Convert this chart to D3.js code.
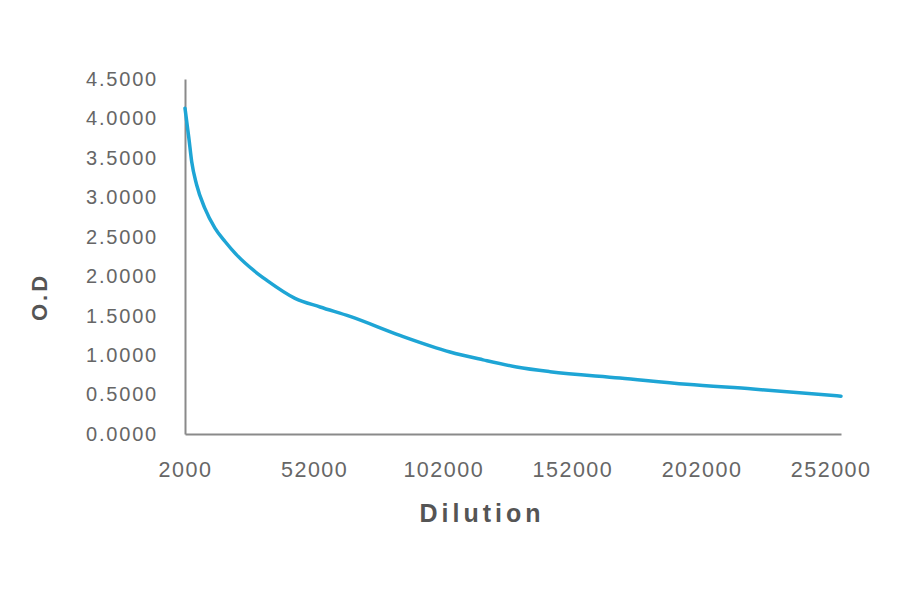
<!DOCTYPE html>
<html>
<head>
<meta charset="utf-8">
<script src="https://cdn.jsdelivr.net/npm/d3@7"></script>
<style>
  body { margin: 0; background: #fff; }
  svg text { font-family: "Liberation Sans", Arial, sans-serif; }
</style>
</head>
<body>
<div id="chart"></div>
<script>
// readings
const dilution = [2000, 3500, 4600, 6500, 9700, 13600, 17500, 22000, 29100, 33600, 44600,
  54300, 65900, 85200, 104600, 117400, 130400, 143300, 170400, 196300, 221900, 256000];
const od = [4.13, 3.75, 3.45, 3.16, 2.86, 2.61, 2.44, 2.27, 2.06, 1.95, 1.72,
  1.61, 1.49, 1.25, 1.04, 0.94, 0.85, 0.79, 0.71, 0.63, 0.57, 0.48];
const xTicks = [2000, 52000, 102000, 152000, 202000, 252000];
const yTicks = [0, 0.5, 1, 1.5, 2, 2.5, 3, 3.5, 4, 4.5];

const width = 900, height = 594;
const margin = { top: 79, right: 59, bottom: 160, left: 185 };

const svg = d3.select("#chart").append("svg")
  .attr("width", width)
  .attr("height", height);

const x = d3.scaleLinear()
  .domain([2000, 256000])
  .range([margin.left, width - margin.right]);

const y = d3.scaleLinear()
  .domain([0, 4.5])
  .range([height - margin.bottom, margin.top]);

// x axis
const xAxis = svg.append("g")
  .attr("transform", "translate(0," + y(0) + ")")
  .call(d3.axisBottom(x).tickValues(xTicks).tickSize(0).tickPadding(28).tickFormat(d3.format("d")));
xAxis.select(".domain").attr("stroke", "#8a8a8a").attr("stroke-width", 2);
xAxis.selectAll("text")
  .attr("fill", "#666")
  .attr("font-size", 21.5)
  .attr("letter-spacing", 1.5);

// y axis
const yAxis = svg.append("g")
  .attr("transform", "translate(" + x(2000) + ",0)")
  .call(d3.axisLeft(y).tickValues(yTicks).tickSize(0).tickPadding(27).tickFormat(d3.format(".4f")));
yAxis.select(".domain").attr("stroke", "#8a8a8a").attr("stroke-width", 2);
yAxis.selectAll("text")
  .attr("fill", "#666")
  .attr("font-size", 20)
  .attr("letter-spacing", 1.8);

// curve
const line = d3.line()
  .x((d, i) => x(dilution[i]))
  .y((d) => y(d))
  .curve(d3.curveMonotoneX);

svg.append("path")
  .datum(od)
  .attr("fill", "none")
  .attr("stroke", "#1ea5d5")
  .attr("stroke-width", 3.5)
  .attr("stroke-linejoin", "round")
  .attr("stroke-linecap", "round")
  .attr("d", line);

// axis titles
svg.append("text")
  .attr("x", 482)
  .attr("y", 522)
  .attr("text-anchor", "middle")
  .attr("fill", "#555")
  .attr("font-size", 25)
  .attr("font-weight", "bold")
  .attr("letter-spacing", 4)
  .text("Dilution");

svg.append("text")
  .attr("transform", "translate(47,297) rotate(-90)")
  .attr("text-anchor", "middle")
  .attr("fill", "#555")
  .attr("font-size", 22)
  .attr("font-weight", "bold")
  .attr("letter-spacing", 3)
  .text("O.D");
</script>
</body>
</html>
